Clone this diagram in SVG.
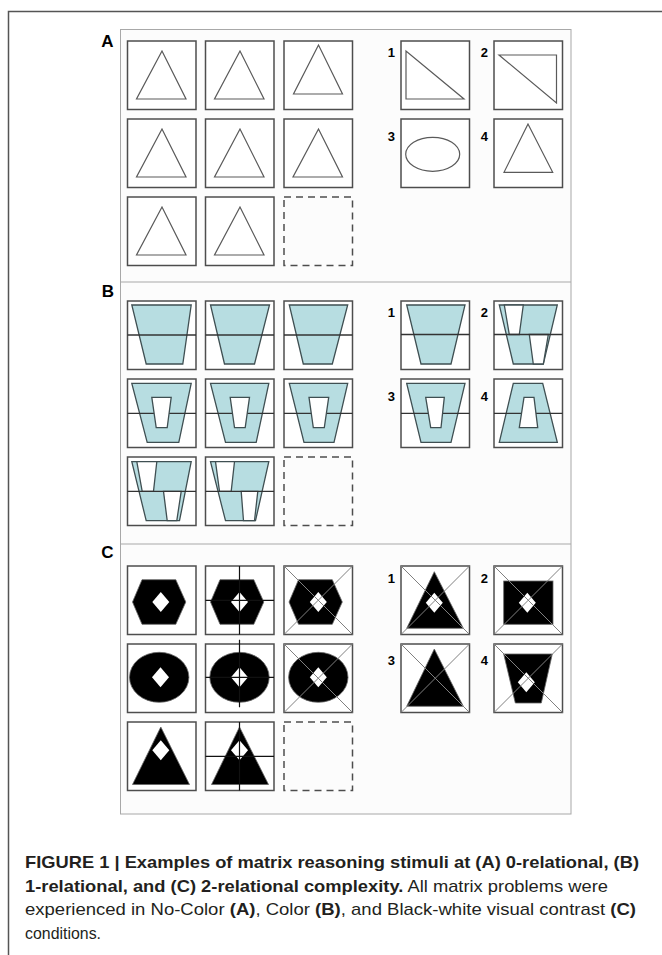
<svg xmlns="http://www.w3.org/2000/svg" width="662" height="955" viewBox="0 0 662 955">
<defs>
<style>
.frame{fill:none;stroke:#555;stroke-width:1.5}
.panel{fill:#fcfcfc;stroke:#a8a8a8;stroke-width:1}
.sep{stroke:#a8a8a8;stroke-width:1}
.cell{fill:#fff;stroke:#4d4d4d;stroke-width:1.5}
.dash{fill:none;stroke:#4d4d4d;stroke-width:1.5;stroke-dasharray:7 5}
.ol{fill:none;stroke:#5a5a5a;stroke-width:1.2}
.blue{fill:#b7dde1;stroke:#3f4f52;stroke-width:1.3}
.hole{fill:#fff;stroke:#3f4f52;stroke-width:1.3}
.mid{stroke:#333;stroke-width:1.3}
.blk{fill:#000;stroke:#666;stroke-width:0.8}
.xl{stroke:#808080;stroke-width:1}
.cross{stroke:#111;stroke-width:1.2}
.num{font-family:"Liberation Sans",Arial,sans-serif;font-weight:bold;font-size:13px;fill:#000;text-anchor:end}
.plbl{font-family:"Liberation Sans",Arial,sans-serif;font-weight:bold;font-size:17px;fill:#000;text-anchor:end}
.cap{font-family:"Liberation Sans",Arial,sans-serif;font-size:17px;fill:#231f20}
.b{font-weight:bold}
</style>
<path id="dia" d="M0,-10 L8.5,0 L0,10 L-8.5,0Z" fill="#fff"/>
<path id="xx" class="xl" d="M0,0 L68.5,68.5 M68.5,0 L0,68.5"/>
<path id="hex" class="blk" d="M5,36 L14.5,13.7 L48.3,13.7 L58.3,36 L48.3,58.3 L14.5,58.3Z"/>
</defs>
<rect width="662" height="955" fill="#fff"/>
<path class="frame" d="M8.5,955 V11.5 H662"/>

<g id="panels">
<rect class="panel" x="120.5" y="29.5" width="450.5" height="784.5"/>
<line class="sep" x1="120.5" y1="282" x2="571" y2="282"/>
<line class="sep" x1="120.5" y1="544" x2="571" y2="544"/>
<text class="plbl" x="113.5" y="47">A</text>
<text class="plbl" x="114" y="297">B</text>
<text class="plbl" x="113.5" y="558">C</text>
</g>

<!-- Panel A -->
<g id="A-r1c1" transform="translate(127.5,41)"><rect class="cell" width="68.5" height="68.5"/><polygon class="ol" points="34.5,10 9,58 58.5,58"/></g>
<g id="A-r1c2" transform="translate(205.5,41)"><rect class="cell" width="68.5" height="68.5"/><polygon class="ol" points="34.5,10 9,58 58.5,58"/></g>
<g id="A-r1c3" transform="translate(284,41)"><rect class="cell" width="68.5" height="68.5"/><polygon class="ol" points="34.5,4 9.5,53 58.5,53"/></g>
<g id="A-r2c1" transform="translate(127.5,119)"><rect class="cell" width="68.5" height="68.5"/><polygon class="ol" points="34.5,10 9,58 58.5,58"/></g>
<g id="A-r2c2" transform="translate(205.5,119)"><rect class="cell" width="68.5" height="68.5"/><polygon class="ol" points="34.5,10 9,58 58.5,58"/></g>
<g id="A-r2c3" transform="translate(284,119)"><rect class="cell" width="68.5" height="68.5"/><polygon class="ol" points="34.5,10 9,58 58.5,58"/></g>
<g id="A-r3c1" transform="translate(127.5,197)"><rect class="cell" width="68.5" height="68.5"/><polygon class="ol" points="34.5,10 9,58 58.5,58"/></g>
<g id="A-r3c2" transform="translate(205.5,197)"><rect class="cell" width="68.5" height="68.5"/><polygon class="ol" points="34.5,10 9,58 58.5,58"/></g>
<g id="A-r3c3" transform="translate(284,197)"><rect class="dash" width="68.5" height="68.5"/></g>
<g id="A-opt1" transform="translate(401,41)"><rect class="cell" width="68.5" height="68.5"/><polygon class="ol" points="5,10 5,58 63,58"/></g>
<g id="A-opt2" transform="translate(494,41)"><rect class="cell" width="68.5" height="68.5"/><polygon class="ol" points="5,14 62.5,14 62.5,62"/></g>
<g id="A-opt3" transform="translate(401,119)"><rect class="cell" width="68.5" height="68.5"/><ellipse class="ol" cx="31.7" cy="35.3" rx="27" ry="17"/></g>
<g id="A-opt4" transform="translate(494,119)"><rect class="cell" width="68.5" height="68.5"/><polygon class="ol" points="34,5 10,53.3 58.7,53.3"/></g>
<g id="A-labels">
<text class="num" x="395" y="57">1</text><text class="num" x="488" y="57">2</text>
<text class="num" x="395" y="140.5">3</text><text class="num" x="488" y="140.5">4</text>
</g>

<!-- Panel B -->
<g id="B-r1c1" transform="translate(127.5,301)"><rect class="cell" width="68.5" height="68.5"/><polygon class="blue" points="4.3,4 63.7,4 55.3,63 18.7,63"/><line class="mid" x1="0" y1="34" x2="68.5" y2="34"/></g>
<g id="B-r1c2" transform="translate(205.5,301)"><rect class="cell" width="68.5" height="68.5"/><polygon class="blue" points="5,4 64,4 49,63 19,63"/><line class="mid" x1="0" y1="34" x2="68.5" y2="34"/></g>
<g id="B-r1c3" transform="translate(284,301)"><rect class="cell" width="68.5" height="68.5"/><polygon class="blue" points="5.3,4 63.7,4 48.3,63 19.3,63"/><line class="mid" x1="0" y1="34" x2="68.5" y2="34"/></g>
<g id="B-r2c1" transform="translate(127.5,379)"><rect class="cell" width="68.5" height="68.5"/><polygon class="blue" points="4.3,4.3 63.7,4.3 51.3,63.3 19.7,63.3"/><line class="mid" x1="0" y1="34.3" x2="68.5" y2="34.3"/><polygon class="hole" points="24.3,18.3 43.7,18.3 39.7,48.7 28.7,48.7"/></g>
<g id="B-r2c2" transform="translate(205.5,379)"><rect class="cell" width="68.5" height="68.5"/><polygon class="blue" points="5,4.3 63.3,4.3 50.7,63.3 20,63.3"/><line class="mid" x1="0" y1="34.3" x2="68.5" y2="34.3"/><polygon class="hole" points="24.7,18.3 44,18.3 39.7,48.7 29,48.7"/></g>
<g id="B-r2c3" transform="translate(284,379)"><rect class="cell" width="68.5" height="68.5"/><polygon class="blue" points="5.3,4.3 63.7,4.3 50,63.3 20,63.3"/><line class="mid" x1="0" y1="34.3" x2="68.5" y2="34.3"/><polygon class="hole" points="25,18.3 44.7,18.3 40.3,48.7 29.3,48.7"/></g>
<g id="B-r3c1" transform="translate(127.5,457)"><rect class="cell" width="68.5" height="68.5"/><polygon class="blue" points="4.3,4.7 63.7,4.7 52,63.7 18.7,63.7"/><polygon class="hole" points="9.3,4.7 29.3,4.7 26,34.3 14.7,34.3"/><polygon class="hole" points="36,34.3 53.7,34.3 49.3,63.7 39.7,63.7"/><line class="mid" x1="0" y1="34.3" x2="68.5" y2="34.3"/></g>
<g id="B-r3c2" transform="translate(205.5,457)"><rect class="cell" width="68.5" height="68.5"/><polygon class="blue" points="5,4.7 63.3,4.7 50,63.7 20,63.7"/><polygon class="hole" points="10,4.7 29,4.7 25.7,34.3 14,34.3"/><polygon class="hole" points="35.7,34.3 52.3,34.3 49,63.7 38,63.7"/><line class="mid" x1="0" y1="34.3" x2="68.5" y2="34.3"/></g>
<g id="B-r3c3" transform="translate(284,457)"><rect class="dash" width="68.5" height="68.5"/></g>
<g id="B-opt1" transform="translate(401,301)"><rect class="cell" width="68.5" height="68.5"/><polygon class="blue" points="5.7,4 64,4 50,63 20,63"/><line class="mid" x1="0" y1="33.5" x2="68.5" y2="33.5"/></g>
<g id="B-opt2" transform="translate(494,301)"><rect class="cell" width="68.5" height="68.5"/><polygon class="blue" points="5.3,4 63.3,4 49.3,63 19.3,63"/><polygon class="hole" points="10.3,4 29.3,4 25.3,33.5 15.3,33.5"/><polygon class="hole" points="35.3,33.5 54.3,33.5 49.3,63 39.3,63"/><line class="mid" x1="0" y1="33.5" x2="68.5" y2="33.5"/></g>
<g id="B-opt3" transform="translate(401,379)"><rect class="cell" width="68.5" height="68.5"/><polygon class="blue" points="5.7,4.3 64,4.3 50,63.3 20,63.3"/><line class="mid" x1="0" y1="34.3" x2="68.5" y2="34.3"/><polygon class="hole" points="24.7,18.3 43.3,18.3 40,48.7 29.7,48.7"/></g>
<g id="B-opt4" transform="translate(494,379)"><rect class="cell" width="68.5" height="68.5"/><polygon class="blue" points="19.3,4.3 48.7,4.3 63.3,63.3 5.3,63.3"/><line class="mid" x1="0" y1="34.3" x2="68.5" y2="34.3"/><polygon class="hole" points="30,18.3 40,18.3 43.7,48.7 25.3,48.7"/></g>
<g id="B-labels">
<text class="num" x="395" y="317">1</text><text class="num" x="488" y="317">2</text>
<text class="num" x="395" y="400.5">3</text><text class="num" x="488" y="400.5">4</text>
</g>

<!-- Panel C -->
<g id="C-r1c1" transform="translate(127.5,566)"><rect class="cell" width="68.5" height="68.5"/><use href="#hex"/><use href="#dia" x="33.3" y="36"/></g>
<g id="C-r1c2" transform="translate(205.5,566)"><rect class="cell" width="68.5" height="68.5"/><use href="#hex"/><use href="#dia" x="34" y="36"/><path class="cross" d="M34,0 V68.5 M0,34.3 H68.5"/></g>
<g id="C-r1c3" transform="translate(284,566)"><rect class="cell" width="68.5" height="68.5"/><use href="#hex"/><use href="#dia" x="34.3" y="36"/><use href="#xx"/></g>
<g id="C-r2c1" transform="translate(127.5,644)"><rect class="cell" width="68.5" height="68.5"/><ellipse class="blk" cx="31.7" cy="33.3" rx="29.7" ry="25"/><use href="#dia" x="33" y="33.3"/></g>
<g id="C-r2c2" transform="translate(205.5,644)"><rect class="cell" width="68.5" height="68.5"/><ellipse class="blk" cx="34" cy="33.3" rx="29.7" ry="25"/><use href="#dia" x="34" y="33.3"/><path class="cross" d="M34,-4.3 V63.3 M0,33.3 H68.5"/></g>
<g id="C-r2c3" transform="translate(284,644)"><rect class="cell" width="68.5" height="68.5"/><ellipse class="blk" cx="34.3" cy="33.3" rx="29.7" ry="25"/><use href="#dia" x="34.3" y="33.3"/><use href="#xx"/></g>
<g id="C-r3c1" transform="translate(127.5,722)"><rect class="cell" width="68.5" height="68.5"/><polygon class="blk" points="33.3,5 5,62.5 62,62.5"/><use href="#dia" x="33.3" y="28.3"/></g>
<g id="C-r3c2" transform="translate(205.5,722)"><rect class="cell" width="68.5" height="68.5"/><polygon class="blk" points="34,5 6,62.5 63,62.5"/><use href="#dia" x="34" y="28.3"/><path class="cross" d="M34,0 V68.5 M0,34.3 H68.5"/></g>
<g id="C-r3c3" transform="translate(284,722)"><rect class="dash" width="68.5" height="68.5"/></g>
<g id="C-opt1" transform="translate(401,566)"><rect class="cell" width="68.5" height="68.5"/><polygon class="blk" points="33.3,5.7 5.7,62.3 62.3,62.3"/><use href="#dia" x="33.3" y="36.7"/><use href="#xx"/></g>
<g id="C-opt2" transform="translate(494,566)"><rect class="cell" width="68.5" height="68.5"/><rect class="blk" x="9.7" y="15" width="49.3" height="43.3"/><use href="#dia" x="33.3" y="36.7"/><use href="#xx"/></g>
<g id="C-opt3" transform="translate(401,644)"><rect class="cell" width="68.5" height="68.5"/><polygon class="blk" points="33.3,5 5.7,62.3 62.3,62.3"/><use href="#xx"/></g>
<g id="C-opt4" transform="translate(494,644)"><rect class="cell" width="68.5" height="68.5"/><polygon class="blk" points="9.7,10 58.3,10 47.3,59 21.3,59"/><use href="#dia" x="32.3" y="38.3"/><use href="#xx"/></g>
<g id="C-labels">
<text class="num" x="395" y="582.5">1</text><text class="num" x="488" y="582.5">2</text>
<text class="num" x="395" y="665">3</text><text class="num" x="488" y="665">4</text>
</g>

<!-- Caption -->
<g id="caption">
<text class="cap b" x="25" y="868" textLength="614" lengthAdjust="spacingAndGlyphs">FIGURE 1 | Examples of matrix reasoning stimuli at (A) 0-relational, (B)</text>
<text class="cap" x="25" y="891.5" textLength="583" lengthAdjust="spacingAndGlyphs"><tspan class="b">1-relational, and (C) 2-relational complexity.</tspan> All matrix problems were</text>
<text class="cap" x="25" y="915" textLength="611" lengthAdjust="spacingAndGlyphs">experienced in No-Color <tspan class="b">(A)</tspan>, Color <tspan class="b">(B)</tspan>, and Black-white visual contrast <tspan class="b">(C)</tspan></text>
<text class="cap" x="25" y="938.5" textLength="76" lengthAdjust="spacingAndGlyphs">conditions.</text>
</g>
</svg>
